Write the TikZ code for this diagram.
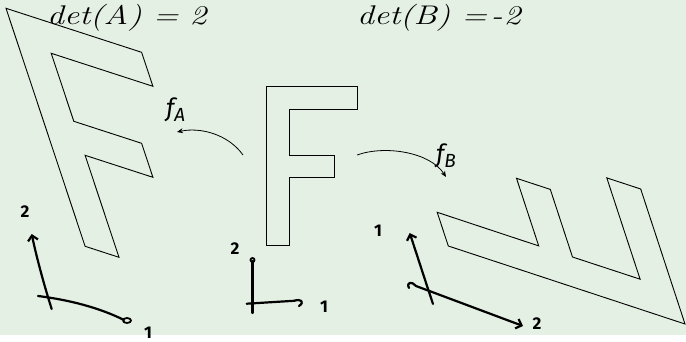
\documentclass[tikz,border=0pt]{standalone}
\usepackage{fontspec}
\newfontfamily\labfont{Fira Sans}
\usetikzlibrary{arrows.meta}
\definecolor{bg}{RGB}{228,240,228}
\begin{document}
\begin{tikzpicture}[x=1pt,y=-1pt,
  fshape/.style={draw=black, line width=0.9pt, line join=miter},
  hand/.style={draw=black, line width=2.2pt, line cap=round, line join=round},
  maparrow/.style={draw=black, line width=0.8pt, -{Stealth[length=6pt,width=5pt]}},
  barb/.style={-{Straight Barb[length=5pt,width=10pt]}},
  axlab/.style={font=\labfont\bfseries\fontsize{17}{17}\selectfont, inner sep=0pt},
  flab/.style={font=\labfont\itshape\fontsize{25}{25}\selectfont, inner sep=0pt, anchor=base west},
  dettext/.style={font=\itshape\fontsize{27}{27}\selectfont, inner sep=0pt, anchor=base west}]
\useasboundingbox (0,0) rectangle (686,342);
\fill[bg] (0,0) rectangle (686,335);

% texts
\node[dettext] (detA) at (47,25) {\scalebox{1.25}[1]{det(A)\hspace{9pt}=\hspace{9pt}2}};
\node[dettext] (detB) at (357,25) {\scalebox{1.25}[1]{det(B)\hspace{9pt}=\hspace{3pt}-\hspace{1pt}2}};

% left F (image under A)
\draw[fshape] (6,8.3) -- (141.6,52.3) -- (152.9,86.3) -- (51.2,53.3) -- (73.8,121.3)
  -- (141.6,143.3) -- (152.9,177.3) -- (85.1,155.3) -- (119,257.3) -- (85.1,246.3) -- cycle;
% middle F
\draw[fshape] (266.7,86.7) -- (357.3,86.7) -- (357.3,109.3) -- (289.3,109.3) -- (289.3,155.3)
  -- (334.3,155.3) -- (334.3,177.7) -- (289.3,177.7) -- (289.3,245.7) -- (266.7,245.7) -- cycle;
% right F (image under B)
\draw[fshape] (685,324) -- (640.7,189) -- (606.8,177.9) -- (640.1,279.2) -- (572.5,257)
  -- (550.3,189.4) -- (516.5,178.3) -- (538.7,245.9) -- (437.2,212.3) -- (448.3,246) -- cycle;

% map arrows and labels
\coordinate (fAs) at (243,155);
\coordinate (fAe) at (177,132);
\draw[maparrow] (fAs) .. controls (228,134) and (200,127) .. (fAe);
\node[flab] (fA) at (166,117) {f\raisebox{-5pt}{\fontsize{19}{19}\selectfont A}};
\coordinate (fBs) at (357,155);
\coordinate (fBe) at (446,177);
\draw[maparrow] (fBs) .. controls (385,145) and (430,152) .. (fBe);
\node[flab] (fB) at (436,163) {f\raisebox{-5pt}{\fontsize{19}{19}\selectfont B}};

% left axes
\coordinate (L2s) at (51.7,309);
\coordinate (L2e) at (31.7,234);
\draw[hand,barb] (L2s) .. controls (44,285) and (36,255) .. (L2e);
\coordinate (L1s) at (38,296);
\coordinate (L1e) at (124,320);
\draw[hand] (L1s) .. controls (70,300) and (100,308) .. (L1e);
\draw[hand, line width=1.8pt] (127,320.5) ellipse [x radius=4, y radius=2.5];
\node[axlab] (L2) at (25,212) {2};
\node[axlab] (L1) at (148,333) {1};

% middle axes
\coordinate (M2s) at (252.5,313);
\coordinate (M2e) at (252.5,261);
\draw[hand] (M2s) -- (M2e);
\draw[hand, line width=1.8pt] (252.5,260) circle [radius=2];
\coordinate (M1s) at (246.7,303.7);
\coordinate (M1e) at (294,300.8);
\draw[hand] (M1s) -- (M1e) .. controls (301,298.5) and (305,302) .. (299,306);
\node[axlab] (M2) at (235,249) {2};
\node[axlab] (M1) at (324,307) {1};

% right axes
\coordinate (R1s) at (433,304);
\coordinate (R1e) at (409.7,233);
\draw[hand,barb] (R1s) .. controls (425,280) and (417,255) .. (R1e);
\coordinate (R2s) at (409,288);
\coordinate (R2e) at (523,326);
\draw[hand,barb] (R2s) .. controls (406,282) and (412,281) .. (416,286) -- (R2e);
\node[axlab] (R1) at (378,231) {1};
\node[axlab] (R2) at (537,324) {2};
\end{tikzpicture}
\end{document}
